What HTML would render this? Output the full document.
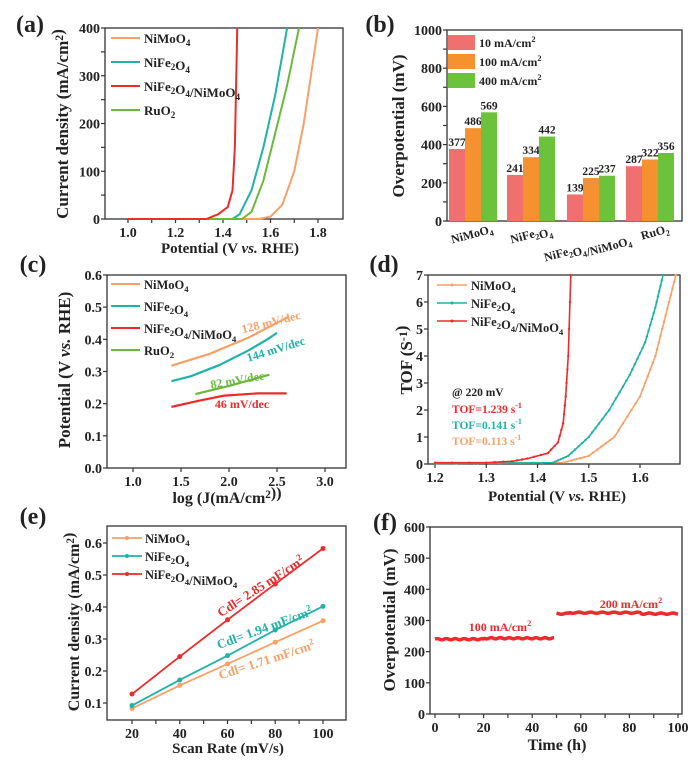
<!DOCTYPE html>
<html><head><meta charset="utf-8"><style>
html,body{margin:0;padding:0;background:#fff;}
svg{display:block;font-family:"Liberation Serif",serif;font-weight:bold;}
</style></head><body>
<svg id="s" width="700" height="764" viewBox="0 0 700 764" xmlns="http://www.w3.org/2000/svg"></svg>
<script>
const S=document.getElementById('s');let h='';
const OR='#f9a066',TE='#1fb2a6',RD='#ee2a2a',GR='#6ab93c';
function t(x,y,s,fs,o){o=o||{};h+=`<text x="${x}" y="${y}" font-size="${fs}" fill="${o.c||'#222'}" text-anchor="${o.a||'middle'}" ${o.tr?`transform="${o.tr}"`:''}>${s}</text>`;}
function sub(s){return s.replace(/_\{([^}]*)\}|_(\w)/g,(m,a,b)=>`<tspan font-size="0.7em" dy="3">${a||b}</tspan><tspan dy="-3"></tspan>`).replace(/\^\{([^}]*)\}|\^(\w)/g,(m,a,b)=>`<tspan font-size="0.7em" dy="-5">${a||b}</tspan><tspan dy="5"></tspan>`);}
function frame(L,T,R,B){h+=`<rect x="${L}" y="${T}" width="${R-L}" height="${B-T}" fill="none" stroke="#333" stroke-width="1.3"/>`;}
function yt(L,y,lab){h+=`<line x1="${L-4}" y1="${y}" x2="${L}" y2="${y}" stroke="#333" stroke-width="1.2"/>`;if(lab!==null)t(L-5,y+5,lab,14,{a:'end'});}
function xt(x,B,lab){h+=`<line x1="${x}" y1="${B}" x2="${x}" y2="${B+4}" stroke="#333" stroke-width="1.2"/>`;if(lab!==null)t(x,B+18,lab,14);}
function line(pts,c,w,mk){h+=`<polyline points="${pts.map(p=>p.join(',')).join(' ')}" fill="none" stroke="${c}" stroke-width="${w||2}" stroke-linejoin="round"/>`;if(mk)pts.forEach(p=>h+=`<circle cx="${p[0]}" cy="${p[1]}" r="${mk}" fill="${c}"/>`);}
function interp(pts,n){let o=[];for(let i=0;i<pts.length-1;i++){for(let k=0;k<n;k++){let f=k/n;o.push([pts[i][0]+(pts[i+1][0]-pts[i][0])*f,pts[i][1]+(pts[i+1][1]-pts[i][1])*f]);}}o.push(pts[pts.length-1]);return o;}

// (a)
t(30,32,'(a)',24);
{let L=105,T=28,R=343,B=219;const X=v=>128+(v-1)*237.5,Y=j=>B-(j/400)*191;
frame(L,T,R,B);
[0,100,200,300,400].forEach(v=>yt(L,Y(v),v));[50,150,250,350].forEach(v=>yt(L,Y(v),null));
[1.0,1.2,1.4,1.6,1.8].forEach(v=>xt(X(v),B,v.toFixed(1)));[1.1,1.3,1.5,1.7].forEach(v=>xt(X(v),B,null));
const m=a=>a.map(p=>[X(p[0]),Y(p[1])]);
line(m([[1.1,0],[1.55,0],[1.6,5],[1.65,30],[1.7,100],[1.74,200],[1.77,300],[1.8,400]]),OR);
line(m([[1.1,0],[1.44,0],[1.47,10],[1.52,60],[1.57,150],[1.62,260],[1.67,400]]),TE);
line(m([[1.1,0],[1.48,0],[1.52,15],[1.57,80],[1.62,180],[1.67,280],[1.72,400]]),GR);
line(m([[1.0,0],[1.33,0],[1.38,10],[1.42,25],[1.44,60],[1.45,150],[1.46,400]]),RD);
[[OR,'NiMoO_4'],[TE,'NiFe_2O_4'],[RD,'NiFe_2O_4/NiMoO_4'],[GR,'RuO_2']].forEach((e,i)=>{let y=38+i*24;h+=`<line x1="111" y1="${y}" x2="140" y2="${y}" stroke="${e[0]}" stroke-width="2"/>`;t(144,y+5,sub(e[1]),13,{a:'start'});});
t(68,124,sub('Current density (mA/cm^2)'),17,{tr:'rotate(-90 68 124)'});
t(230,253,'Potential (V <tspan font-style="italic">vs.</tspan> RHE)',15);}

// (b)
t(380,32,'(b)',24);
{let L=447,T=30,R=682,B=221;const Y=v=>B-v*0.191;
frame(L,T,R,B);
[0,200,400,600,800,1000].forEach(v=>yt(L,Y(v),v));[100,300,500,700,900].forEach(v=>yt(L,Y(v),null));
const d=[[377,486,569],[241,334,442],[139,225,237],[287,322,356]],st=[449,507,567,626],cols=['#f07070','#f5922f','#6cc23a'];
d.forEach((g,i)=>g.forEach((v,k)=>{let x=st[i]+k*16;h+=`<rect x="${x}" y="${Y(v)}" width="16" height="${B-Y(v)}" fill="${cols[k]}"/>`;t(x+8,Y(v)-3,v,11.5);}));
[['10 mA/cm^2',cols[0]],['100 mA/cm^2',cols[1]],['400 mA/cm^2',cols[2]]].forEach((e,i)=>{let y=35+i*19;h+=`<rect x="448" y="${y}" width="27" height="15" fill="${e[1]}"/>`;t(479,y+12,sub(e[0]),12,{a:'start'});});
[['NiMoO_4',473,238],['NiFe_2O_4',532,238],['NiFe_2O_4/NiMoO_4',588,250],['RuO_2',656,236]].forEach(e=>{t(e[1],e[2],sub(e[0]),12,{tr:`rotate(-15 ${e[1]} ${e[2]})`});});
t(404,126,'Overpotential (mV)',17,{tr:'rotate(-90 404 126)'});}

// (c)
t(33,272,'(c)',24);
{let L=107,T=275,R=346,B=468;const X=v=>133+(v-1)*96,Y=v=>B-v*321.7;
frame(L,T,R,B);
[0,.1,.2,.3,.4,.5,.6].forEach(v=>yt(L,Y(v),v.toFixed(1)));
[1,1.5,2,2.5,3].forEach(v=>xt(X(v),B,v.toFixed(1)));
const m=a=>a.map(p=>[X(p[0]),Y(p[1])]);
line(m([[1.4,.318],[1.8,.355],[2.2,.405],[2.62,.47]]),OR,2.2);
line(m([[1.4,.27],[1.6,.285],[1.9,.32],[2.2,.365],[2.4,.4],[2.5,.42]]),TE,2.2);
line(m([[1.65,.23],[2.0,.255],[2.42,.29]]),GR,2.2);
line(m([[1.4,.19],[1.7,.21],[1.95,.225],[2.3,.232],[2.6,.232]]),RD,2.2);
[[OR,'NiMoO_4'],[TE,'NiFe_2O_4'],[RD,'NiFe_2O_4/NiMoO_4'],[GR,'RuO_2']].forEach((e,i)=>{let y=284+i*22;h+=`<line x1="111" y1="${y}" x2="140" y2="${y}" stroke="${e[0]}" stroke-width="2"/>`;t(144,y+5,sub(e[1]),12.5,{a:'start'});});
t(272,326,'128 mV/dec',12,{c:OR,tr:'rotate(-14 272 326)'});
t(277,353,'144 mV/dec',12,{c:TE,tr:'rotate(-17 277 353)'});
t(238,384,'82 mV/dec',12,{c:GR,tr:'rotate(-10 238 384)'});
t(242,408,'46 mV/dec',12,{c:RD});
t(70,370,'Potential (V <tspan font-style="italic">vs.</tspan> RHE)',17,{tr:'rotate(-90 70 370)'});
t(227,503,sub('log (J(mA/cm^2))'),16);}

// (d)
t(384,272,'(d)',24);
{let L=428,T=275,R=680,B=464;const X=v=>435+(v-1.2)*512.5,Y=v=>B-v*27;
frame(L,T,R,B);
[0,1,2,3,4,5,6,7].forEach(v=>yt(L,Y(v),v));
[1.2,1.3,1.4,1.5,1.6].forEach(v=>xt(X(v),B,v.toFixed(1)));
const m=a=>a.map(p=>[X(p[0]),Y(p[1])]);
line(interp(m([[1.2,0.02],[1.45,0.05],[1.5,0.3],[1.55,1],[1.6,2.5],[1.63,4],[1.65,5.5],[1.67,7]]),6),OR,1.6,1.2);
line(interp(m([[1.2,0.02],[1.43,0.05],[1.46,0.3],[1.5,1],[1.54,2],[1.58,3.3],[1.61,4.5],[1.63,5.8],[1.645,7]]),6),TE,1.6,1.2);
line(interp(m([[1.2,0.05],[1.3,0.05],[1.35,0.1],[1.38,0.2],[1.42,0.4],[1.44,0.8],[1.45,1.5],[1.455,2.5],[1.46,4],[1.465,7]]),3),RD,1.6,1.2);
[[OR,'NiMoO_4'],[TE,'NiFe_2O_4'],[RD,'NiFe_2O_4/NiMoO_4']].forEach((e,i)=>{let y=285+i*18;h+=`<line x1="437" y1="${y}" x2="467" y2="${y}" stroke="${e[0]}" stroke-width="1.6"/><circle cx="452" cy="${y}" r="1.5" fill="${e[0]}"/>`;t(471,y+5,sub(e[1]),12.5,{a:'start'});});
t(452,396,'@ 220 mV',11.5,{a:'start'});
t(452,413,sub('TOF=1.239 s^{-1}'),11.5,{a:'start',c:RD});
t(452,429,sub('TOF=0.141 s^{-1}'),11.5,{a:'start',c:TE});
t(452,445,sub('TOF=0.113 s^{-1}'),11.5,{a:'start',c:OR});
t(412,360,sub('TOF (S^{-1})'),17,{tr:'rotate(-90 412 360)'});
t(557,501,'Potential (V <tspan font-style="italic">vs.</tspan> RHE)',15);}

// (e)
t(33,524,'(e)',24);
{let L=107,T=526,R=346,B=720;const X=v=>132+(v-20)*2.3875,Y=v=>703-(v-0.1)*320;
frame(L,T,R,B);
[.1,.2,.3,.4,.5,.6].forEach(v=>yt(L,Y(v),v.toFixed(1)));
[20,40,60,80,100].forEach(v=>xt(X(v),B,v));[30,50,70,90].forEach(v=>xt(X(v),B,null));
const xs=[20,40,60,80,100];
line(xs.map((x,i)=>[X(x),Y([.083,.155,.222,.29,.357][i])]),OR,1.8,2.5);
line(xs.map((x,i)=>[X(x),Y([.092,.172,.248,.328,.402][i])]),TE,1.8,2.5);
line(xs.map((x,i)=>[X(x),Y([.128,.245,.36,.472,.583][i])]),RD,1.8,2.5);
[[OR,'NiMoO_4'],[TE,'NiFe_2O_4'],[RD,'NiFe_2O_4/NiMoO_4']].forEach((e,i)=>{let y=538+i*18;h+=`<line x1="112" y1="${y}" x2="142" y2="${y}" stroke="${e[0]}" stroke-width="1.8"/><circle cx="127" cy="${y}" r="2" fill="${e[0]}"/>`;t(145,y+5,sub(e[1]),12.5,{a:'start'});});
t(263,590,'Cdl= 2.85 mF/cm<tspan font-size="0.7em" dy="-5">2</tspan>',13,{c:RD,tr:'rotate(-33 263 590)'});
t(266,632,'Cdl= 1.94 mF/cm<tspan font-size="0.7em" dy="-5">2</tspan>',13,{c:TE,tr:'rotate(-20 266 632)'});
t(268,664,'Cdl= 1.71 mF/cm<tspan font-size="0.7em" dy="-5">2</tspan>',13,{c:OR,tr:'rotate(-18 268 664)'});
t(79,622,sub('Current density (mA/cm^2)'),16,{tr:'rotate(-90 79 622)'});
t(228,753,'Scan Rate (mV/s)',15);}

// (f)
t(385,530,'(f)',24);
{let L=430,T=527,R=682,B=714;const X=v=>435+v*2.43,Y=v=>B-v*0.3117;
frame(L,T,R,B);
[0,100,200,300,400,500,600].forEach(v=>yt(L,Y(v),v));
[0,20,40,60,80,100].forEach(v=>xt(X(v),B,v));[10,30,50,70,90].forEach(v=>xt(X(v),B,null));
let p1=[],p2=[];for(let i=0;i<=49;i+=0.5)p1.push([X(i),Y(240+Math.sin(i*1.7)*2+(i>20?3:0))]);
for(let i=50;i<=100;i+=0.5)p2.push([X(i),Y(322+Math.sin(i*1.3)*2+(i>55&&i<85?3:0))]);
line(p1,RD,3.5);line(p2,RD,3.5);
t(500,631,sub('100 mA/cm^2'),12,{c:RD});
t(631,608,sub('200 mA/cm^2'),12,{c:RD});
t(395,620,'Overpotential (mV)',17,{tr:'rotate(-90 395 620)'});
t(557,750,'Time (h)',16);}
S.innerHTML=h;
</script>
</body></html>
